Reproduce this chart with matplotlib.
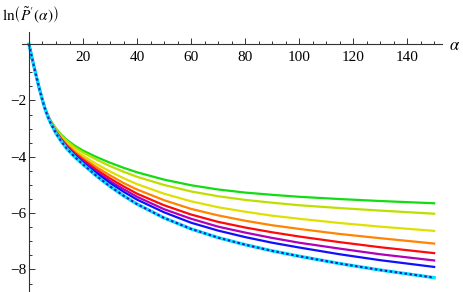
import matplotlib
matplotlib.use("Agg")
import matplotlib.pyplot as plt
from matplotlib.ticker import MultipleLocator, FixedLocator

plt.rcParams['mathtext.fontset'] = 'stix'
plt.rcParams['font.family'] = ['Liberation Serif', 'DejaVu Serif']

alpha = [0, 1, 2, 3, 4, 5, 6, 7, 8, 10, 12, 14, 17, 20, 25, 30, 35, 40, 50, 60, 70, 80, 90, 100, 115, 130, 150]

green  = [0, -0.44, -0.86, -1.26, -1.63, -1.98, -2.28, -2.52, -2.71, -3.00, -3.22, -3.40, -3.61, -3.78, -4.01, -4.21, -4.39, -4.55, -4.81, -5.01, -5.16, -5.27, -5.35, -5.42, -5.50, -5.57, -5.65]
ygreen = [0, -0.44, -0.86, -1.26, -1.63, -1.98, -2.29, -2.53, -2.72, -3.02, -3.25, -3.44, -3.67, -3.85, -4.10, -4.33, -4.53, -4.71, -5.00, -5.23, -5.40, -5.53, -5.63, -5.72, -5.82, -5.91, -6.02]
yellow = [0, -0.44, -0.86, -1.26, -1.64, -1.99, -2.30, -2.54, -2.74, -3.06, -3.31, -3.52, -3.76, -3.96, -4.26, -4.52, -4.76, -4.97, -5.31, -5.58, -5.79, -5.95, -6.09, -6.20, -6.35, -6.48, -6.63]
orange = [0, -0.44, -0.86, -1.26, -1.64, -1.99, -2.30, -2.55, -2.76, -3.09, -3.35, -3.57, -3.83, -4.05, -4.37, -4.66, -4.93, -5.16, -5.54, -5.85, -6.08, -6.27, -6.43, -6.56, -6.74, -6.89, -7.08]
red    = [0, -0.44, -0.86, -1.26, -1.64, -1.99, -2.31, -2.56, -2.77, -3.11, -3.38, -3.61, -3.88, -4.11, -4.46, -4.77, -5.05, -5.31, -5.72, -6.05, -6.31, -6.51, -6.68, -6.83, -7.03, -7.21, -7.42]
purple = [0, -0.44, -0.86, -1.26, -1.64, -2.00, -2.31, -2.57, -2.78, -3.13, -3.41, -3.64, -3.92, -4.16, -4.53, -4.86, -5.15, -5.42, -5.86, -6.20, -6.48, -6.69, -6.88, -7.05, -7.26, -7.46, -7.68]
blue   = [0, -0.44, -0.86, -1.26, -1.64, -2.00, -2.31, -2.57, -2.79, -3.15, -3.43, -3.67, -3.95, -4.20, -4.58, -4.93, -5.24, -5.52, -5.97, -6.34, -6.62, -6.85, -7.05, -7.22, -7.46, -7.67, -7.91]
bottom = [0, -0.44, -0.86, -1.26, -1.64, -2.00, -2.32, -2.58, -2.80, -3.17, -3.46, -3.71, -4.01, -4.27, -4.68, -5.05, -5.38, -5.68, -6.17, -6.56, -6.87, -7.12, -7.34, -7.53, -7.79, -8.02, -8.29]

series = [green, ygreen, yellow, orange, red, purple, blue]
colors = ['#12dc12', '#bede00', '#e0e000', '#ff8400', '#ff0a0a', '#b000b8', '#1010ff']

xticks = [20, 40, 60, 80, 100, 120, 140]
yticks = [-2, -4, -6, -8]

W, H = 463, 292
fig = plt.figure(figsize=(W/100, H/100), dpi=100)
ax = fig.add_axes([21.7/W, 0.0, (441.7-21.7)/W, (292-32)/H])

for s, c in zip(series, colors):
    ax.plot(alpha, s, color=c, lw=1.6, solid_joinstyle='round')
ax.plot(alpha, bottom, color='#00e4ff', lw=2.4, solid_joinstyle='round')
ax.plot(alpha, bottom, color='#2020c0', lw=1.5, linestyle=(0, (1.2, 1.2)))

ax.set_xlim(-2.7, 152.8)
ax.set_ylim(-8.8, 0.43)

for side in ['top', 'right']:
    ax.spines[side].set_visible(False)
ax.spines['left'].set_position(('data', 0))
ax.spines['bottom'].set_position(('data', 0))
for side in ['left', 'bottom']:
    ax.spines[side].set_linewidth(0.8)
    ax.spines[side].set_color('#333333')

ax.xaxis.set_major_locator(FixedLocator(xticks))
ax.xaxis.set_minor_locator(MultipleLocator(5))
ax.yaxis.set_major_locator(FixedLocator(yticks))
ax.yaxis.set_minor_locator(MultipleLocator(0.5))
ax.set_xticklabels([str(v) for v in xticks])
ax.set_yticklabels(['\u2212' + str(-v) for v in yticks])

ax.tick_params(axis='x', which='major', direction='in', length=4, width=0.7, pad=5, labelsize=11, colors='#333333', labelcolor='black')
ax.tick_params(axis='x', which='minor', direction='in', length=2.5, width=0.7, colors='#333333')
ax.tick_params(axis='y', which='major', direction='in', length=4, width=0.7, pad=2, labelsize=11, colors='#333333', labelcolor='black')
ax.tick_params(axis='y', which='minor', direction='in', length=2.5, width=0.7, colors='#333333')

fig.text(2/W, 1 - 15/H, r"$\ln\!\left(\tilde{P}^{\prime}(\alpha)\right)$", ha='left', va='center', fontsize=11)
fig.text(455/W, 1 - 46/H, r"$\alpha$", ha='center', va='center', fontsize=12)

fig.savefig('out.png', dpi=100)
